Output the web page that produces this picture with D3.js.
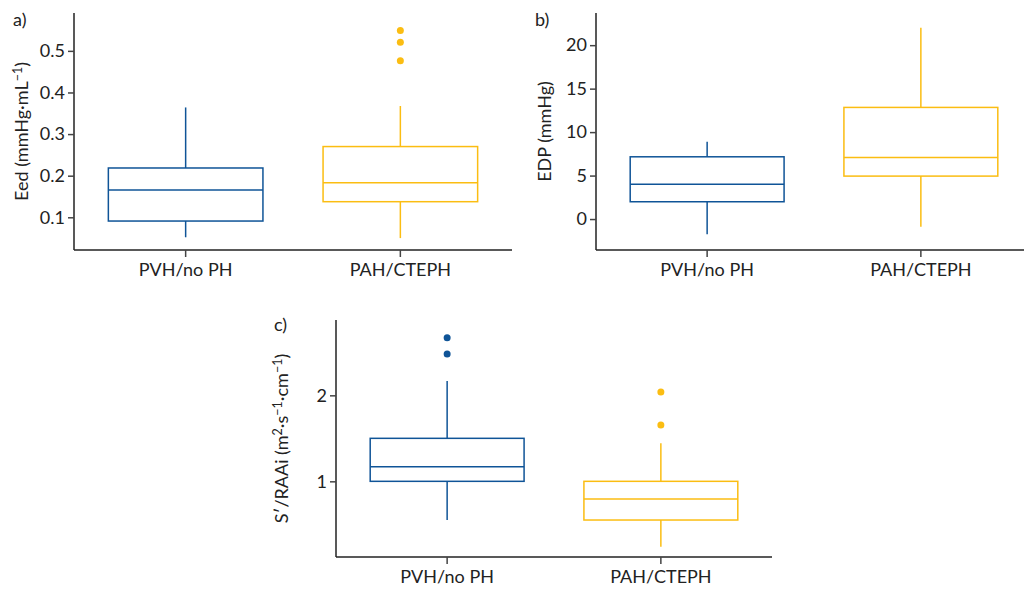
<!DOCTYPE html>
<html><head><meta charset="utf-8">
<script src="https://cdn.jsdelivr.net/npm/d3@7"></script>
<style>
body{margin:0;background:#fff;}
text{font-family:Lato,sans-serif;fill:#222;}
</style></head>
<body><svg id="c" width="1024" height="589"></svg>
<script>
const categories = ["PVH/no PH", "PAH/CTEPH"];
const colors = ["#0f5497", "#fbbd12"];
// [whiskerLow, q1, median, q3, whiskerHigh]
const eedStats = [[0.052, 0.091, 0.1656, 0.2185, 0.364], [0.050, 0.1375, 0.183, 0.270, 0.3675]];
const eedOutliers = [[], [0.549, 0.521, 0.476]];
const eedTicks = [0.1, 0.2, 0.3, 0.4, 0.5];
const edpStats = [[-1.76, 1.99, 3.99, 7.16, 8.9], [-0.88, 4.94, 7.09, 12.84, 22.0]];
const edpOutliers = [[], []];
const edpTicks = [0, 5, 10, 15, 20];
const sraStats = [[0.55, 1.0, 1.17, 1.5, 2.166], [0.24, 0.55, 0.794, 1.0, 1.442]];
const sraOutliers = [[2.67, 2.48], [2.04, 1.655]];
const sraTicks = [1, 2];
// axis titles: segments, ^ marks superscript
const eedLabel = ["Eed (mmHg·mL", "^−1", ")"];
const edpLabel = ["EDP (mmHg)"];
const sraLabel = ["S′/RAAi (m", "^2", "·s", "^−1", "·cm", "^−1", ")"];

const FONT = "Lato";
const svg = d3.select("#c");

function panel(o) {
  const g = svg.append("g");
  const x = d3.scaleBand().domain(categories).range([o.left, o.right]).paddingInner(0.28).paddingOuter(0.16);
  const y = d3.scaleLinear().domain(o.domain).range([o.bottom, o.top]);
  categories.forEach((c, i) => {
    const s = o.stats[i], col = colors[i];
    const x0 = x(c), bw = x.bandwidth(), cx = x0 + bw / 2;
    const bg = g.append("g").attr("stroke", col).attr("stroke-width", 1.5).attr("fill", "none");
    bg.append("line").attr("x1", cx).attr("x2", cx).attr("y1", y(s[0])).attr("y2", y(s[1]));
    bg.append("line").attr("x1", cx).attr("x2", cx).attr("y1", y(s[3])).attr("y2", y(s[4]));
    bg.append("rect").attr("x", x0).attr("width", bw).attr("y", y(s[3])).attr("height", y(s[1]) - y(s[3]));
    bg.append("line").attr("x1", x0).attr("x2", x0 + bw).attr("y1", y(s[2])).attr("y2", y(s[2]));
    g.selectAll(null).data(o.outliers[i]).enter().append("circle")
      .attr("cx", cx).attr("cy", d => y(d)).attr("r", 3.5).attr("fill", col);
  });
  const ya = g.append("g").attr("transform", `translate(${o.left},0)`)
    .call(d3.axisLeft(y).tickValues(o.ticks).tickSize(6).tickPadding(3).tickFormat(o.fmt));
  ya.select(".domain").attr("d", `M0,${o.top}V${o.bottom}`);
  const xa = g.append("g").attr("transform", `translate(0,${o.bottom})`)
    .call(d3.axisBottom(x).tickSize(7).tickPadding(6));
  xa.select(".domain").attr("d", `M${o.left},0H${o.right}`);
  [ya, xa].forEach(a => {
    a.attr("font-family", FONT).attr("font-size", 18);
    a.select(".domain").attr("stroke", "#222").attr("stroke-width", 1.5);
    a.selectAll(".tick line").attr("stroke", "#444").attr("stroke-width", 1.5);
    a.selectAll(".tick text").attr("fill", "#222");
  });
  const t = g.append("text").attr("transform", `translate(${o.labelX},${(o.top + o.bottom) / 2}) rotate(-90)`)
    .attr("text-anchor", "middle").attr("dy", "0.35em").attr("font-size", 18);
  o.label.forEach(seg => {
    if (seg.startsWith("^")) {
      t.append("tspan").attr("font-size", 12.5).attr("baseline-shift", "6").text(seg.slice(1));
    } else {
      t.append("tspan").text(seg);
    }
  });
  g.append("text").attr("x", o.tagX).attr("y", o.tagY).attr("font-size", 18).text(o.tag);
}

panel({left: 74, right: 512, top: 13, bottom: 250, domain: [0.0214, 0.591], stats: eedStats, outliers: eedOutliers,
  ticks: eedTicks, fmt: d3.format(".1f"), label: eedLabel, labelX: 22, tag: "a)", tagX: 13, tagY: 26});
panel({left: 596, right: 1032, top: 13, bottom: 250, domain: [-3.56, 23.7], stats: edpStats, outliers: edpOutliers,
  ticks: edpTicks, fmt: d3.format("d"), label: edpLabel, labelX: 545, tag: "b)", tagX: 535, tagY: 26});
panel({left: 336, right: 772, top: 320, bottom: 557, domain: [0.12, 2.876], stats: sraStats, outliers: sraOutliers,
  ticks: sraTicks, fmt: d3.format("d"), label: sraLabel, labelX: 282, tag: "c)", tagX: 274, tagY: 331});
</script></body></html>
